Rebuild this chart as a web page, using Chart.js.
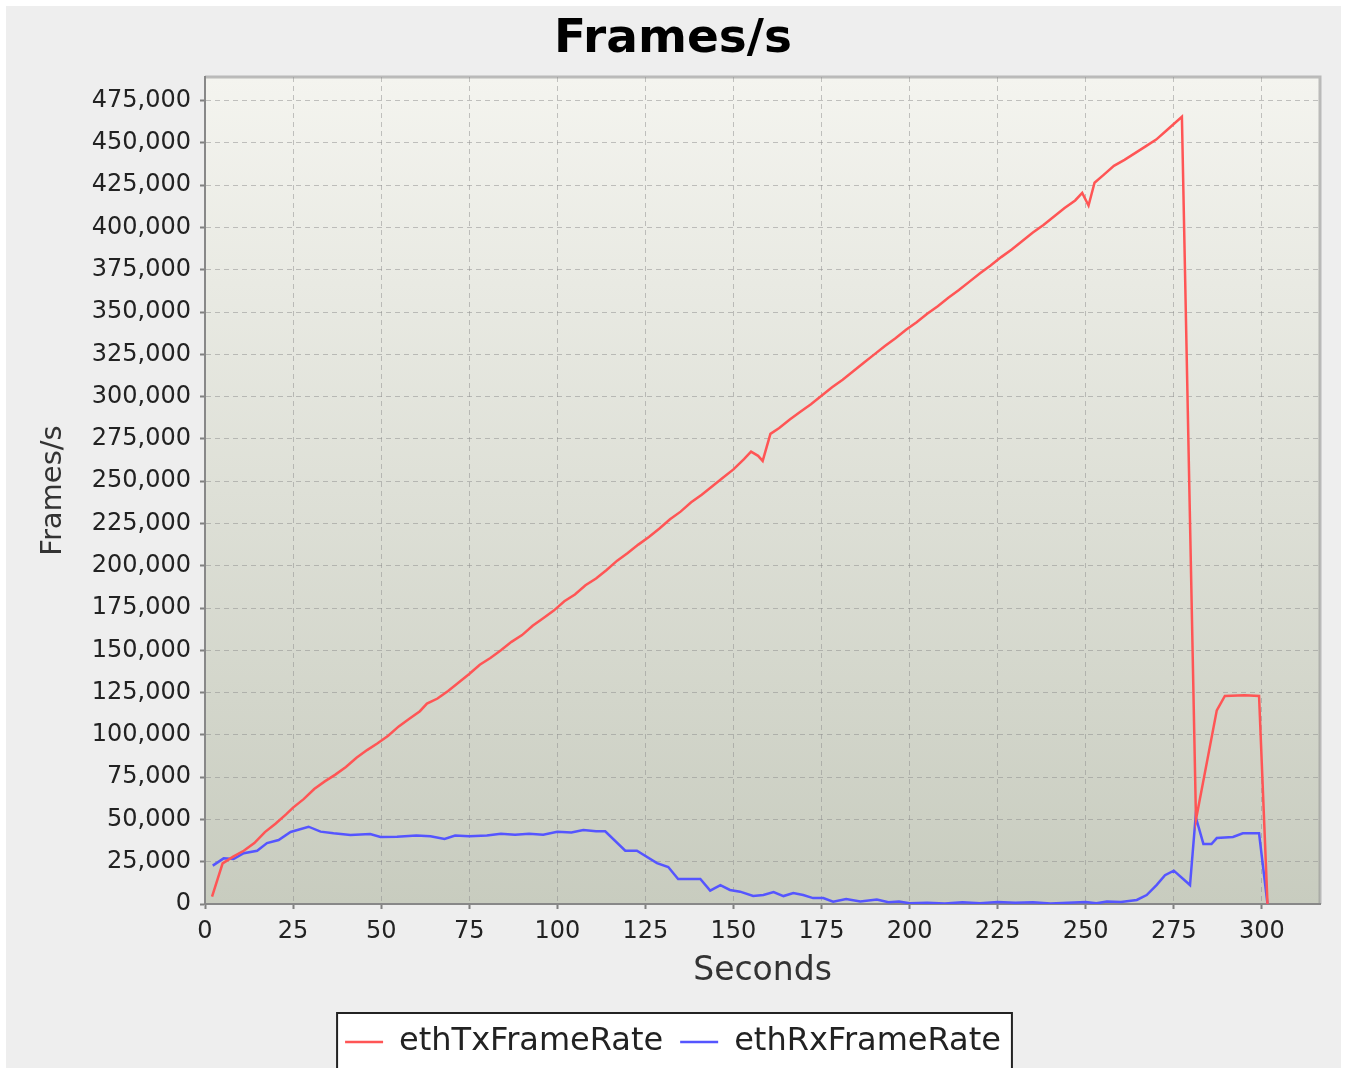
<!DOCTYPE html>
<html><head><meta charset="utf-8">
<script src="https://cdn.jsdelivr.net/npm/chart.js@4.4.1/dist/chart.umd.min.js"></script>
<style>
html,body{margin:0;padding:0;background:#fff;width:1345px;height:1068px;overflow:hidden}
#bg{position:absolute;left:6px;top:6px;width:1335px;height:1062px;background:#eeeeee}
#c{position:absolute;left:0;top:0}
</style></head><body><div id="bg"></div><canvas id="c" width="1345" height="1068"></canvas>
<script>
const chartTitle = 'Frames/s';
const xAxisTitle = 'Seconds';
const yAxisTitle = 'Frames/s';
const seriesNames = ['ethTxFrameRate', 'ethRxFrameRate'];
const xTickValues = [0, 25, 50, 75, 100, 125, 150, 175, 200, 225, 250, 275, 300];
const yTickValues = [0, 25000, 50000, 75000, 100000, 125000, 150000, 175000, 200000, 225000, 250000, 275000, 300000, 325000, 350000, 375000, 400000, 425000, 450000, 475000];

const txSeconds = [2, 5, 8, 11, 14, 17, 20, 23, 25, 28, 31, 34, 37, 40, 43, 46, 49, 52, 55, 58, 61, 63, 66, 69, 72, 75, 78, 81, 84, 87, 90, 93, 96, 99, 102, 105, 108, 111, 114, 117, 120, 123, 126, 129, 132, 135, 138, 141, 144, 147, 150, 153, 155, 157, 158.3, 160.5, 163, 166, 169, 172, 175, 178, 181, 184, 187, 190, 193, 196, 199, 202, 205, 208, 211, 214, 217, 220, 223, 226, 229, 232, 235, 238, 241, 244, 247, 249, 250.8, 252.5, 255, 258, 261, 264, 267, 270, 273, 277.3, 281.3, 287.2, 289.5, 295, 299.2, 301.6];
const txValues = [4300, 24000, 28000, 31500, 36000, 42500, 47500, 53000, 57000, 62000, 68000, 72500, 76500, 81000, 86500, 91000, 95000, 99500, 105000, 109500, 114000, 118500, 121500, 126000, 131000, 136000, 141500, 145500, 150000, 155000, 159000, 164500, 169000, 173500, 179000, 183000, 188500, 192500, 197500, 203000, 207500, 212500, 217000, 222000, 227500, 232000, 237500, 242000, 247000, 252000, 257000, 263000, 267500, 265000, 262000, 278000, 281500, 286500, 291000, 295500, 300500, 305500, 310000, 315000, 320000, 325000, 330000, 334500, 339500, 344000, 349000, 353500, 358500, 363000, 368000, 373000, 377500, 382500, 387000, 392000, 397000, 401500, 406500, 411500, 416000, 420500, 413000, 426500, 431000, 436500, 440000, 444000, 448000, 452000, 457500, 465500, 50000, 114500, 123000, 123500, 123000, 0];

const rxSeconds = [2.2, 5.3, 8.1, 11, 14.8, 17.6, 20.9, 24.3, 29.4, 32.8, 36.5, 41.3, 46.9, 49.8, 54.5, 60, 64, 68, 71, 75, 80, 84, 88, 92, 96, 100, 104, 107.4, 111, 113.6, 119.3, 122.6, 128.3, 131.5, 134.3, 140.6, 143.4, 146.3, 149, 151.9, 155.6, 158.5, 161.4, 164.2, 167, 169.8, 172.6, 175.5, 178.3, 182, 186, 190.7, 194, 197, 200, 205, 210, 215, 220, 225, 230, 235, 240, 245, 250, 253, 256, 260, 264.5, 267.3, 270.1, 272.5, 275, 279.6, 281.2, 283.4, 285.7, 287.2, 291.8, 294.6, 299.2, 301.6];
const rxValues = [22700, 27000, 26600, 30000, 31500, 36000, 37800, 42600, 45700, 42800, 41800, 40800, 41400, 39600, 39800, 40500, 40000, 38500, 40500, 40000, 40500, 41500, 41000, 41500, 41000, 42700, 42300, 43800, 43000, 43000, 31500, 31500, 24200, 21900, 14800, 14800, 7900, 11200, 8300, 7300, 4700, 5300, 7000, 4700, 6500, 5300, 3500, 3500, 1400, 2900, 1500, 2600, 1000, 1500, 500, 800, 300, 1000, 500, 1200, 800, 1000, 300, 800, 1200, 400, 1500, 1200, 2400, 5300, 11200, 17000, 19700, 11200, 51600, 35500, 35500, 39000, 39600, 41800, 41800, 0];

const FONT = "'DejaVu Sans', sans-serif";

const plotBg = {
  id: 'plotBg',
  beforeDraw(chart) {
    const {ctx, chartArea: a} = chart;
    ctx.save();
    const g = ctx.createLinearGradient(0, a.top, 0, a.bottom);
    g.addColorStop(0, '#f4f4ef');
    g.addColorStop(1, '#c8ccbf');
    ctx.fillStyle = g;
    ctx.fillRect(a.left, a.top, a.right - a.left, a.bottom - a.top);
    ctx.strokeStyle = 'rgba(150,150,150,0.6)';
    ctx.lineWidth = 3;
    ctx.beginPath();
    ctx.moveTo(a.left, a.top);
    ctx.lineTo(a.right, a.top);
    ctx.lineTo(a.right, a.bottom);
    ctx.stroke();
    const lg = chart.legend;
    if (lg && lg.legendHitBoxes && lg.legendHitBoxes.length) {
      const hb = lg.legendHitBoxes;
      const last = hb[hb.length - 1];
      const l = hb[0].left - 8;
      const r = last.left + last.width + 11;
      const t = hb[0].top - 13;
      ctx.fillStyle = '#ffffff';
      ctx.fillRect(l, t, r - l, chart.height - t + 10);
      ctx.strokeStyle = '#222';
      ctx.lineWidth = 2;
      ctx.strokeRect(l, t, r - l, chart.height - t + 10);
    }
    ctx.restore();
  }
};

const toPoints = (xs, ys) => xs.map((x, i) => ({x, y: ys[i]}));

new Chart(document.getElementById('c'), {
  type: 'line',
  data: {
    datasets: [
      {label: seriesNames[0], data: toPoints(txSeconds, txValues), borderColor: '#ff5555', backgroundColor: '#ff5555', borderWidth: 2.5, pointRadius: 0, tension: 0, fill: false},
      {label: seriesNames[1], data: toPoints(rxSeconds, rxValues), borderColor: '#5555ff', backgroundColor: '#5555ff', borderWidth: 2.5, pointRadius: 0, tension: 0, fill: false}
    ]
  },
  options: {
    responsive: false,
    animation: false,
    devicePixelRatio: 1,
    layout: {padding: {left: 26, right: 25, top: 0, bottom: 0}},
    plugins: {
      title: {display: true, text: chartTitle, color: '#000', font: {family: FONT, size: 47, weight: 'bold', lineHeight: 1}, padding: {top: 16, bottom: 14}},
      legend: {
        display: true, position: 'bottom',
        labels: {font: {family: FONT, size: 32}, color: '#222', usePointStyle: true, pointStyle: 'line', pointStyleWidth: 38, boxHeight: 32, padding: 17}
      },
      tooltip: {enabled: false}
    },
    scales: {
      x: {
        type: 'linear', min: 0, max: 316.5,
        afterBuildTicks: s => { s.ticks = xTickValues.map(v => ({value: v})); },
        afterFit: s => { s.height = 105; },
        ticks: {font: {family: FONT, size: 24}, color: '#222', padding: 8, maxRotation: 0, autoSkip: false, callback: v => String(v)},
        grid: {color: 'rgba(140,140,140,0.5)', lineWidth: 1, tickLength: 5, tickColor: '#808080', tickWidth: 2, tickBorderDash: []},
        border: {display: true, color: '#888888', width: 2, dash: [5, 4]},
        title: {display: true, text: xAxisTitle, color: '#333', font: {family: FONT, size: 33, lineHeight: 1.2}, padding: {top: 0, bottom: 18}}
      },
      y: {
        type: 'linear', min: 0, max: 489000,
        afterBuildTicks: s => { s.ticks = yTickValues.map(v => ({value: v})); },
        afterFit: s => { s.width = 179; },
        ticks: {font: {family: FONT, size: 24}, color: '#222', padding: 9, autoSkip: false, callback: v => Number(v).toLocaleString('en-US')},
        grid: {color: 'rgba(140,140,140,0.5)', lineWidth: 1, tickLength: 5, tickColor: '#808080', tickWidth: 2, tickBorderDash: []},
        border: {display: true, color: '#888888', width: 2, dash: [5, 4]},
        title: {display: true, text: yAxisTitle, color: '#333', font: {family: FONT, size: 29, lineHeight: 1.2}, padding: {top: 10, bottom: 0}}
      }
    }
  },
  plugins: [plotBg]
});
</script>
</body></html>
